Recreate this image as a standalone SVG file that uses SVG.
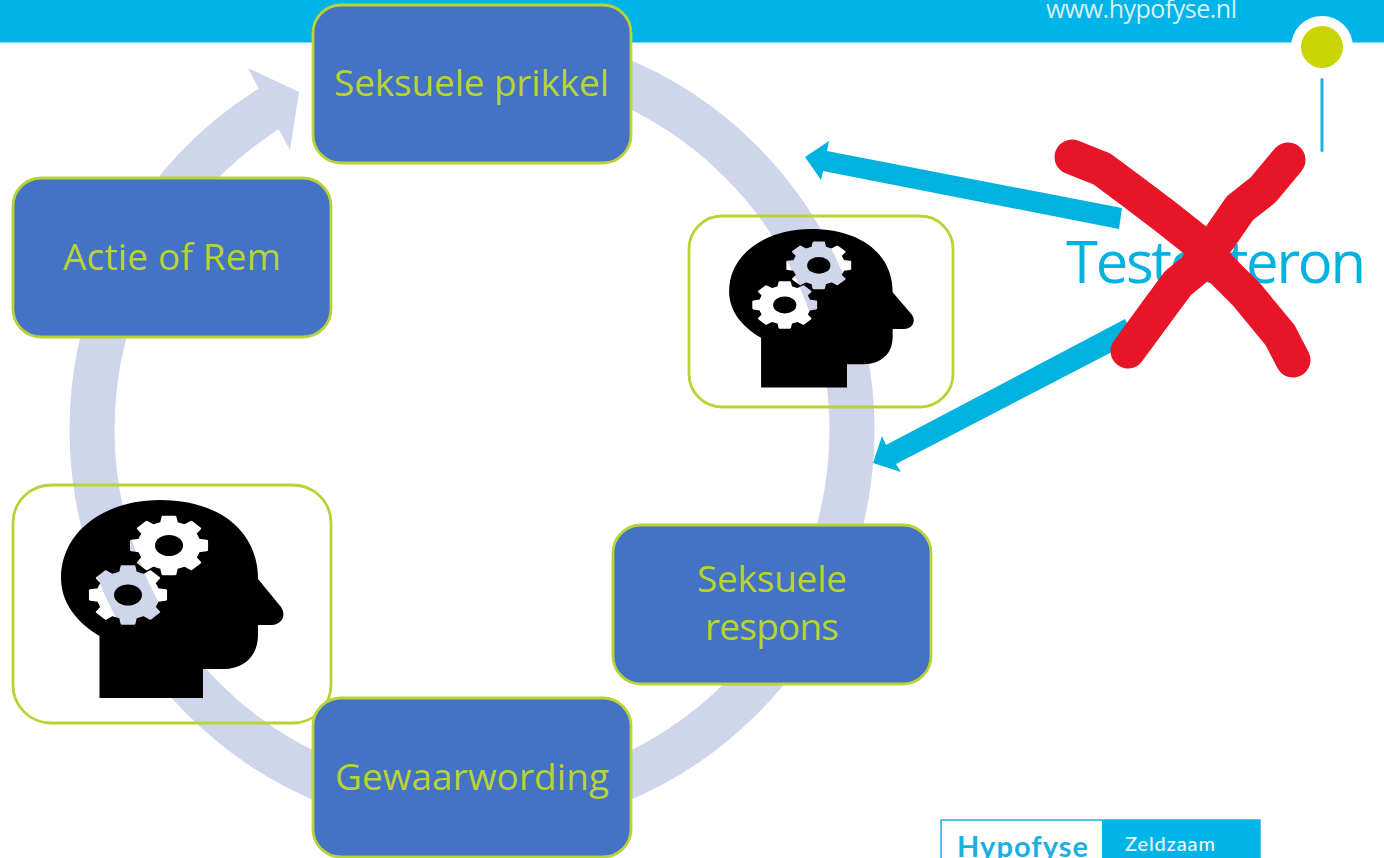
<svg xmlns="http://www.w3.org/2000/svg" xmlns:xlink="http://www.w3.org/1999/xlink" width="1384" height="858" viewBox="0 0 1384 858">
<style>
.box{fill:#4472c4;stroke:#b8d334;stroke-width:2.800}
.frame{fill:none;stroke:#b8d334;stroke-width:2.800}
.lbl{font-family:"Open Sans","Liberation Sans",sans-serif;font-size:37px;fill:#b8d334}
.ring{fill:none;stroke:#cfd5ea;stroke-width:45}
.blue{fill:#00b2de}
.x{fill:none;stroke:#e81528;stroke-width:35;stroke-linecap:round;stroke-linejoin:round}
</style>
<defs>
<polygon id="gear" stroke="#000" stroke-width="8" stroke-linejoin="round" points="77.6,-19.4 98.8,-15.6 98.8,15.6 77.6,19.4 68.6,41.2 80.9,58.8 58.8,80.9 41.2,68.6 19.4,77.6 15.6,98.8 -15.6,98.8 -19.4,77.6 -41.2,68.6 -58.8,80.9 -80.9,58.8 -68.6,41.2 -77.6,19.4 -98.8,15.6 -98.8,-15.6 -77.6,-19.4 -68.6,-41.2 -80.9,-58.8 -58.8,-80.9 -41.2,-68.6 -19.4,-77.6 -15.6,-98.8 15.6,-98.8 19.4,-77.6 41.2,-68.6 58.8,-80.9 80.9,-58.8 68.6,-41.2"/>
<mask id="gears" maskUnits="userSpaceOnUse" x="0" y="450" width="340" height="300">
<rect x="0" y="450" width="340" height="300" fill="#fff"/>
<use xlink:href="#gear" href="#gear" transform="translate(169,545.5) scale(.38,.29)" fill="#000"/>
<ellipse cx="169" cy="545.5" rx="14" ry="10.5" fill="#fff"/>
<use xlink:href="#gear" href="#gear" transform="translate(128,595) scale(.38,.29)" fill="#000"/>
<ellipse cx="128" cy="595" rx="14" ry="10.5" fill="#fff"/>
</mask>
<path id="head" mask="url(#gears)" fill="#000" d="M99.5 698H203V669H223C245 669 258 655 258 635V625H272C281 625 287 616 281 607L258 579C258 530 218 500 160 500C104 500 61 532 61 578C61 602 76 622 99.5 636Z"/>
</defs>
<rect id="topbar" x="0" y="0" width="1384" height="42.500" fill="#00b4e8"/>
<text id="url" x="1046" y="18" font-family="'Open Sans','Liberation Sans',sans-serif" font-size="25" fill="#d6f1fa" textLength="191">www.hypofyse.nl</text>
<g id="pin">
<circle cx="1322" cy="47" r="31" fill="#fff"/>
<circle cx="1322" cy="47" r="21" fill="#c9d400"/>
<rect x="1320.500" y="78" width="3" height="74" rx="1.500" fill="#1ab4e0"/>
</g>
<g id="connectors">
<g id="cycle-arrow">
<path class="ring" d="M472 50A380 380 0 0 1 852 430A380 380 0 0 1 472 810A380 380 0 0 1 92 430A380 380 0 0 1 273.6 105.9"/>
<polygon points="248,68 299,92 290,150 279,130 259,89" fill="#cfd5ea"/>
</g>
<polygon id="arrow-top" class="blue" points="1122,208 1119,229 823,171 821,180 805,157 829,141 827,151"/>
<polygon id="arrow-bottom" class="blue" points="1125,319 1135,340 896,464 901,472 873,463 882,436 886,445"/>
</g>
<g id="node-prikkel"><rect class="box" x="313" y="5" width="318" height="158" rx="28"/><text class="lbl" x="334" y="96" textLength="275">Seksuele prikkel</text></g>
<g id="node-actie"><rect class="box" x="13" y="178" width="318" height="159" rx="28"/><text class="lbl" x="63" y="270" textLength="218">Actie of Rem</text></g>
<g id="node-head-right"><rect class="frame" x="689" y="216" width="264" height="191" rx="33"/><use xlink:href="#head" href="#head" transform="translate(678.500,-171) scale(.83,.8)"/></g>
<g id="node-respons"><rect class="box" x="613" y="525" width="318" height="159" rx="28"/><text class="lbl" x="697" y="592" textLength="150">Seksuele</text><text class="lbl" x="705" y="640" textLength="134">respons</text></g>
<g id="node-head-left"><rect class="frame" x="13" y="485" width="318" height="238" rx="38"/><use xlink:href="#head" href="#head"/></g>
<g id="node-gewaarwording"><rect class="box" x="313" y="698" width="318" height="159" rx="28"/><text class="lbl" x="335" y="790" textLength="274">Gewaarwording</text></g>
<text id="testosteron" x="1066" y="283" font-family="'Open Sans','Liberation Sans',sans-serif" font-size="58" fill="#00b2de" textLength="300">Testosteron</text>
<g id="cross">
<path class="x" d="M1072 157L1102 169 1133 192 1166 217 1195 240 1220 268 1247 295 1280 335 1293 360"/>
<path class="x" d="M1288 160L1263 190 1240 208 1220 237 1194 270 1178 283 1158 310 1128 351"/>
</g>
<g id="logo">
<rect x="941" y="820" width="319" height="40" fill="#fff" stroke="#1ab4e0" stroke-width="1.500"/>
<rect x="1102" y="820" width="158" height="40" fill="#00b4e8"/>
<text x="957" y="857" font-family="Lato,'Liberation Sans',sans-serif" font-size="29" font-weight="700" fill="#1ab0e0" textLength="131">Hypofyse</text>
<text x="1125" y="851" font-family="Lato,'Liberation Sans',sans-serif" font-size="20" font-weight="500" fill="#e8f8fc" textLength="90">Zeldzaam</text>
</g>
</svg>
